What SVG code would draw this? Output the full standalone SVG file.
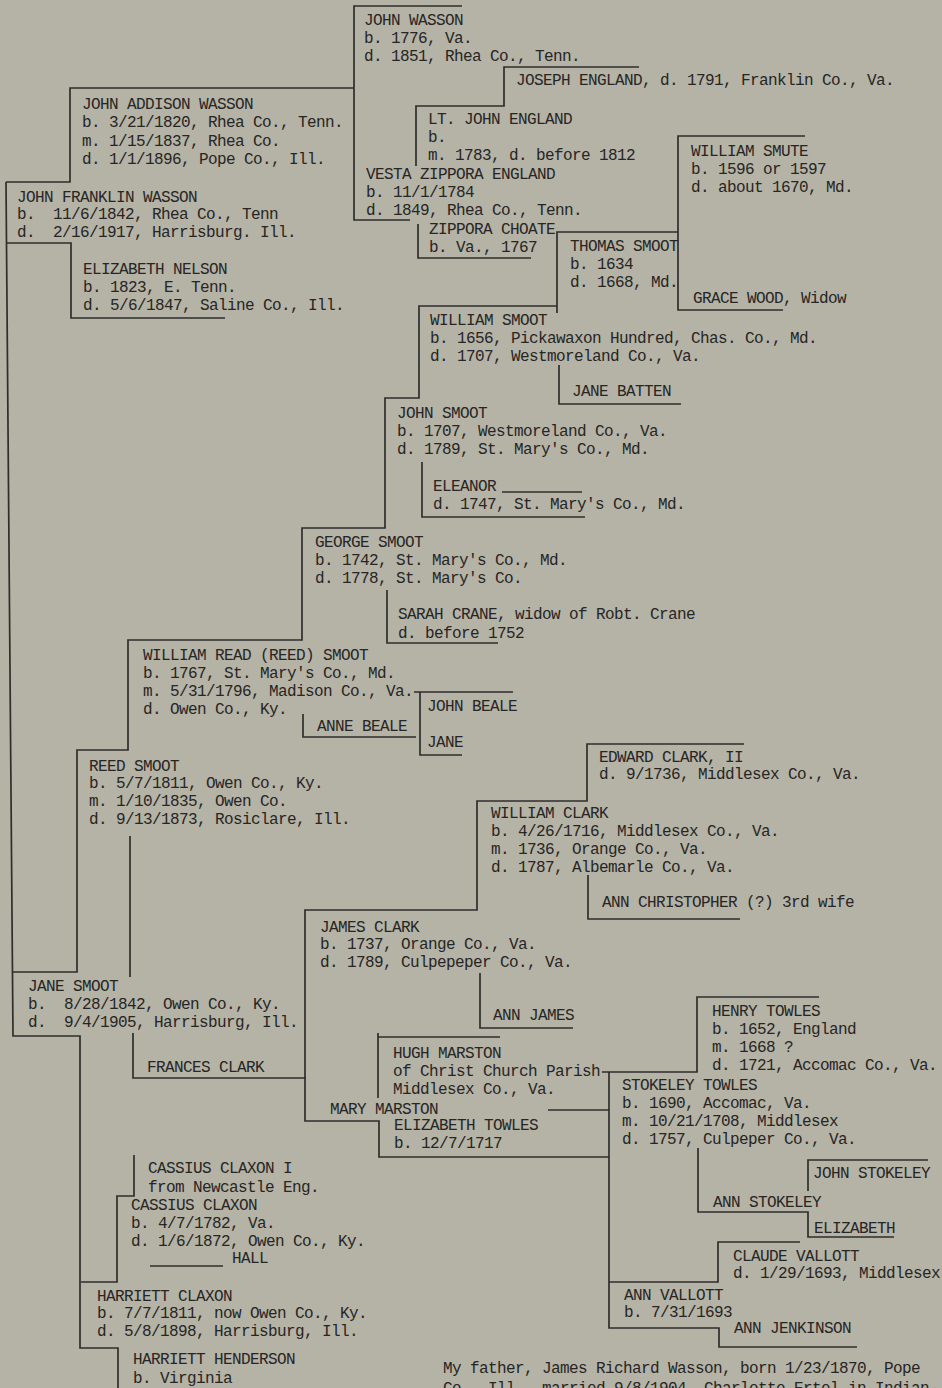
<svg xmlns="http://www.w3.org/2000/svg" width="942" height="1388" viewBox="0 0 942 1388">
<style>
text{font-family:"Liberation Mono","DejaVu Sans Mono",monospace;font-size:16px;letter-spacing:-0.6px;fill:#262624;white-space:pre}
#connectors path{stroke:#2e2e2c;stroke-width:1.7;fill:none}
</style>
<rect width="942" height="1388" fill="#b5b2a6"/>
<g id="connectors">
<path d="M462,6 H354 V220 H410"/>
<path d="M354,88 H70 V182 H6"/>
<path d="M6,182 L13,1036 H80 V1348 H118 V1388"/>
<path d="M6,243 H71 V318 H225"/>
<path d="M639,67 H504 V106 H416 V166"/>
<path d="M418,224 V258 H531"/>
<path d="M805,136 H678 V310 H783"/>
<path d="M678,232 H557 V313"/>
<path d="M557,306 H419 V398 H385 V528 H302 V640 H128 V750 H77 V972 H12"/>
<path d="M559,365 V404 H681"/>
<path d="M422,462 V517 H585"/>
<path d="M502,492 H582"/>
<path d="M387,590 V643 H498"/>
<path d="M303,714 V737 H416"/>
<path d="M414,692 H513 M420,692 V755 H462"/>
<path d="M130,836 V977"/>
<path d="M744,744 H587 V801 H477 V910 H305 V1121 H379 V1157 H609"/>
<path d="M588,875 V919 H740"/>
<path d="M480,973 V1028 H573"/>
<path d="M133,1033 V1078 H306"/>
<path d="M378,1033 V1098 M378,1037 H500"/>
<path d="M819,997 H697 V1072 H602 M609,1072 V1328 H719 V1347 H857"/>
<path d="M548,1110 H609"/>
<path d="M698,1148 V1212 H808 V1237 H894 M808,1191 V1160 H928"/>
<path d="M800,1242 H718 V1282 H609"/>
<path d="M134,1155 V1196 H117 V1282 H81"/>
<path d="M150,1266 H223"/>
</g>
<g id="john-wasson"><text x="364" y="25">JOHN WASSON</text><text x="364" y="43">b. 1776, Va.</text><text x="364" y="61">d. 1851, Rhea Co., Tenn.</text></g>
<g id="joseph-england"><text x="516" y="85">JOSEPH ENGLAND, d. 1791, Franklin Co., Va.</text></g>
<g id="john-addison-wasson"><text x="82" y="109">JOHN ADDISON WASSON</text><text x="82" y="127">b. 3/21/1820, Rhea Co., Tenn.</text><text x="82" y="146">m. 1/15/1837, Rhea Co.</text><text x="82" y="164">d. 1/1/1896, Pope Co., Ill.</text></g>
<g id="lt-john-england"><text x="428" y="124">LT. JOHN ENGLAND</text><text x="428" y="142">b.</text><text x="428" y="160">m. 1783, d. before 1812</text></g>
<g id="vesta-zippora-england"><text x="366" y="179">VESTA ZIPPORA ENGLAND</text><text x="366" y="197">b. 11/1/1784</text><text x="366" y="215">d. 1849, Rhea Co., Tenn.</text></g>
<g id="zippora-choate"><text x="429" y="234">ZIPPORA CHOATE</text><text x="429" y="252">b. Va., 1767</text></g>
<g id="william-smute"><text x="691" y="156">WILLIAM SMUTE</text><text x="691" y="174">b. 1596 or 1597</text><text x="691" y="192">d. about 1670, Md.</text></g>
<g id="thomas-smoot"><text x="570" y="251">THOMAS SMOOT</text><text x="570" y="269">b. 1634</text><text x="570" y="287">d. 1668, Md.</text></g>
<g id="grace-wood"><text x="693" y="303">GRACE WOOD, Widow</text></g>
<g id="john-franklin-wasson"><text x="17" y="202">JOHN FRANKLIN WASSON</text><text x="17" y="219">b.  11/6/1842, Rhea Co., Tenn</text><text x="17" y="237">d.  2/16/1917, Harrisburg. Ill.</text></g>
<g id="elizabeth-nelson"><text x="83" y="274">ELIZABETH NELSON</text><text x="83" y="292">b. 1823, E. Tenn.</text><text x="83" y="310">d. 5/6/1847, Saline Co., Ill.</text></g>
<g id="william-smoot"><text x="430" y="325">WILLIAM SMOOT</text><text x="430" y="343">b. 1656, Pickawaxon Hundred, Chas. Co., Md.</text><text x="430" y="361">d. 1707, Westmoreland Co., Va.</text></g>
<g id="jane-batten"><text x="572" y="396">JANE BATTEN</text></g>
<g id="john-smoot"><text x="397" y="418">JOHN SMOOT</text><text x="397" y="436">b. 1707, Westmoreland Co., Va.</text><text x="397" y="454">d. 1789, St. Mary's Co., Md.</text></g>
<g id="eleanor"><text x="433" y="491">ELEANOR</text><text x="433" y="509">d. 1747, St. Mary's Co., Md.</text></g>
<g id="george-smoot"><text x="315" y="547">GEORGE SMOOT</text><text x="315" y="565">b. 1742, St. Mary's Co., Md.</text><text x="315" y="583">d. 1778, St. Mary's Co.</text></g>
<g id="sarah-crane"><text x="398" y="619">SARAH CRANE, widow of Robt. Crane</text><text x="398" y="638">d. before 1752</text></g>
<g id="william-read-smoot"><text x="143" y="660">WILLIAM READ (REED) SMOOT</text><text x="143" y="678">b. 1767, St. Mary's Co., Md.</text><text x="143" y="696">m. 5/31/1796, Madison Co., Va.</text><text x="143" y="714">d. Owen Co., Ky.</text></g>
<g id="anne-beale"><text x="317" y="731">ANNE BEALE</text></g>
<g id="john-beale"><text x="427" y="711">JOHN BEALE</text></g>
<g id="jane"><text x="427" y="747">JANE</text></g>
<g id="reed-smoot"><text x="89" y="771">REED SMOOT</text><text x="89" y="788">b. 5/7/1811, Owen Co., Ky.</text><text x="89" y="806">m. 1/10/1835, Owen Co.</text><text x="89" y="824">d. 9/13/1873, Rosiclare, Ill.</text></g>
<g id="edward-clark"><text x="599" y="762">EDWARD CLARK, II</text><text x="599" y="779">d. 9/1736, Middlesex Co., Va.</text></g>
<g id="william-clark"><text x="491" y="818">WILLIAM CLARK</text><text x="491" y="836">b. 4/26/1716, Middlesex Co., Va.</text><text x="491" y="854">m. 1736, Orange Co., Va.</text><text x="491" y="872">d. 1787, Albemarle Co., Va.</text></g>
<g id="ann-christopher"><text x="602" y="907">ANN CHRISTOPHER (?) 3rd wife</text></g>
<g id="james-clark"><text x="320" y="932">JAMES CLARK</text><text x="320" y="949">b. 1737, Orange Co., Va.</text><text x="320" y="967">d. 1789, Culpepeper Co., Va.</text></g>
<g id="jane-smoot"><text x="28" y="991">JANE SMOOT</text><text x="28" y="1009">b.  8/28/1842, Owen Co., Ky.</text><text x="28" y="1027">d.  9/4/1905, Harrisburg, Ill.</text></g>
<g id="ann-james"><text x="493" y="1020">ANN JAMES</text></g>
<g id="henry-towles"><text x="712" y="1016">HENRY TOWLES</text><text x="712" y="1034">b. 1652, England</text><text x="712" y="1052">m. 1668 ?</text><text x="712" y="1070">d. 1721, Accomac Co., Va.</text></g>
<g id="hugh-marston"><text x="393" y="1058">HUGH MARSTON</text><text x="393" y="1076">of Christ Church Parish</text><text x="393" y="1094">Middlesex Co., Va.</text></g>
<g id="frances-clark"><text x="147" y="1072">FRANCES CLARK</text></g>
<g id="stokeley-towles"><text x="622" y="1090">STOKELEY TOWLES</text><text x="622" y="1108">b. 1690, Accomac, Va.</text><text x="622" y="1126">m. 10/21/1708, Middlesex</text><text x="622" y="1144">d. 1757, Culpeper Co., Va.</text></g>
<g id="mary-marston"><text x="330" y="1114">MARY MARSTON</text></g>
<g id="elizabeth-towles"><text x="394" y="1130">ELIZABETH TOWLES</text><text x="394" y="1148">b. 12/7/1717</text></g>
<g id="cassius-claxon-i"><text x="148" y="1173">CASSIUS CLAXON I</text><text x="148" y="1192">from Newcastle Eng.</text></g>
<g id="cassius-claxon"><text x="131" y="1210">CASSIUS CLAXON</text><text x="131" y="1228">b. 4/7/1782, Va.</text><text x="131" y="1246">d. 1/6/1872, Owen Co., Ky.</text></g>
<g id="hall"><text x="232" y="1263">HALL</text></g>
<g id="john-stokeley"><text x="813" y="1178">JOHN STOKELEY</text></g>
<g id="ann-stokeley"><text x="713" y="1207">ANN STOKELEY</text></g>
<g id="elizabeth"><text x="814" y="1233">ELIZABETH</text></g>
<g id="claude-vallott"><text x="733" y="1261">CLAUDE VALLOTT</text><text x="733" y="1278">d. 1/29/1693, Middlesex</text></g>
<g id="harriett-claxon"><text x="97" y="1301">HARRIETT CLAXON</text><text x="97" y="1318">b. 7/7/1811, now Owen Co., Ky.</text><text x="97" y="1336">d. 5/8/1898, Harrisburg, Ill.</text></g>
<g id="ann-vallott"><text x="624" y="1300">ANN VALLOTT</text><text x="624" y="1317">b. 7/31/1693</text></g>
<g id="ann-jenkinson"><text x="734" y="1333">ANN JENKINSON</text></g>
<g id="harriett-henderson"><text x="133" y="1364">HARRIETT HENDERSON</text><text x="133" y="1383">b. Virginia</text></g>
<g id="note"><text x="443" y="1373">My father, James Richard Wasson, born 1/23/1870, Pope</text><text x="443" y="1393">Co., Ill., married 9/8/1904, Charlotte Ertel in Indian-</text></g>
</svg>
